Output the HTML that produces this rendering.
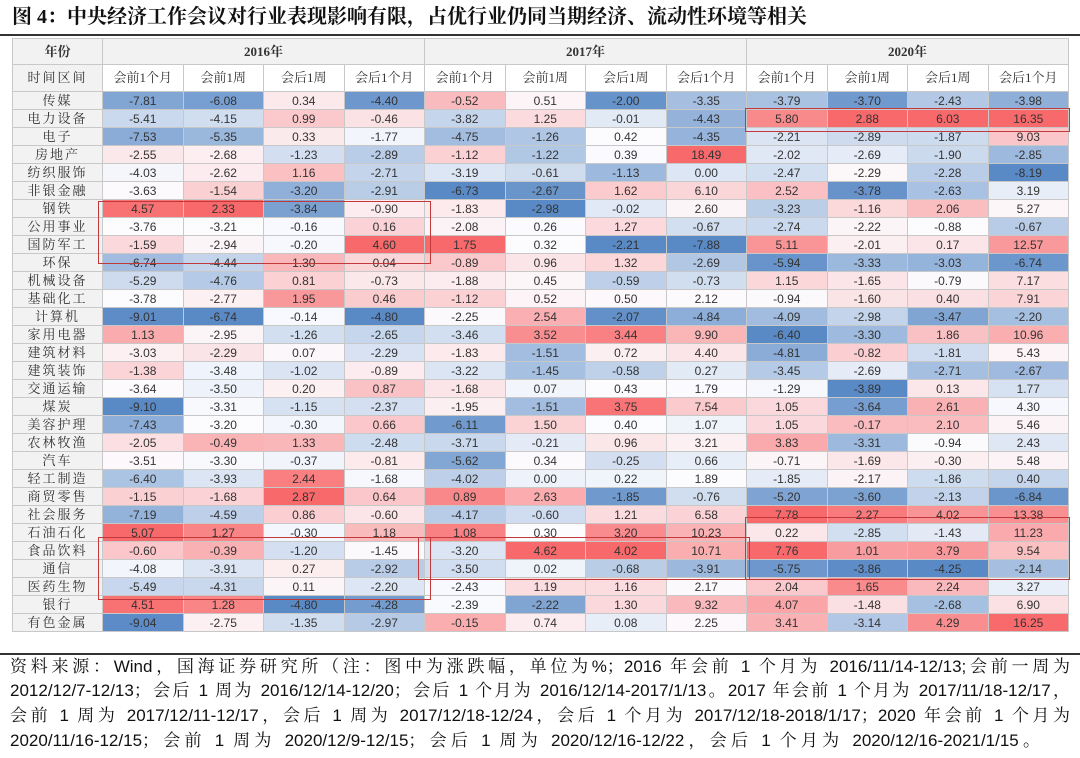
<!DOCTYPE html>
<html><head><meta charset="utf-8">
<style>
body{margin:0;width:1080px;height:758px;background:#fff;position:relative;overflow:hidden;font-family:"Liberation Sans","Noto Sans CJK SC",sans-serif}
#title{position:absolute;left:12px;top:4px;font:bold 20px "Liberation Serif","Noto Serif CJK SC",serif;color:#111;white-space:nowrap;line-height:26px}
.rule{position:absolute;left:0;width:1080px;height:2px;background:#333}
table{position:absolute;left:12px;top:38px;border-collapse:collapse;table-layout:fixed;width:1056px}
td{border:1px solid #c8c8c8;text-align:center;padding:0;font-size:12px;line-height:16px;color:#333;overflow:hidden;white-space:nowrap}
td.lab{background:#f2f2f2;font-family:"Liberation Serif","Noto Serif CJK SC",serif;font-size:13px;line-height:16px;letter-spacing:2px;color:#333}
tr.h1 td{height:25px;line-height:20px;background:#f2f2f2;font:bold 13px/20px "Liberation Serif","Noto Serif CJK SC",serif}
tr.h2 td{height:26px;line-height:20px;font:13px/20px "Liberation Serif","Noto Serif CJK SC",serif}
tr.d{height:18px}
tr.d td{height:17px;max-height:17px}
.gs{border-left:1.5px solid #777}
.box{position:absolute;border:1.5px solid #c0393b;pointer-events:none}
.fn{position:absolute;left:10px;width:1060px;font:17px/22px "Liberation Sans","Noto Serif CJK SC",sans-serif;color:#111;white-space:nowrap;text-align:justify;text-align-last:justify}
</style></head><body>
<div id="title">图 4：中央经济工作会议对行业表现影响有限，占优行业仍同当期经济、流动性环境等相关</div>
<div class="rule" style="top:34px"></div>
<table id="tbl"></table>
<div class="rule" style="top:653px;height:1.5px"></div>
<div class="fn" style="top:656px">资料来源：Wind，国海证券研究所（注：图中为涨跌幅，单位为%；2016 年会前 1 个月为 2016/11/14-12/13;会前一周为</div>
<div class="fn" style="top:680px">2012/12/7-12/13；会后 1 周为 2016/12/14-12/20；会后 1 个月为 2016/12/14-2017/1/13。2017 年会前 1 个月为 2017/11/18-12/17，</div>
<div class="fn" style="top:705px">会前 1 周为 2017/12/11-12/17，会后 1 周为 2017/12/18-12/24，会后 1 个月为 2017/12/18-2018/1/17；2020 年会前 1 个月为</div>
<div class="fn" style="top:730px;width:1030px">2020/11/16-12/15；会前 1 周为 2020/12/9-12/15；会后 1 周为 2020/12/16-12/22，会后 1 个月为 2020/12/16-2021/1/15。</div>
<div class="box" style="left:98px;top:201px;width:331px;height:61px"></div>
<div class="box" style="left:745px;top:108px;width:323px;height:22px"></div>
<div class="box" style="left:98px;top:537px;width:331px;height:61px"></div>
<div class="box" style="left:418px;top:537px;width:330px;height:41px"></div>
<div class="box" style="left:745px;top:517px;width:323px;height:61px"></div>
<script>
const years=["2016年","2017年","2020年"];
const periods=["会前1个月","会前1周","会后1周","会后1个月"];
const industries=["传媒","电力设备","电子","房地产","纺织服饰","非银金融","钢铁","公用事业","国防军工","环保","机械设备","基础化工","计算机","家用电器","建筑材料","建筑装饰","交通运输","煤炭","美容护理","农林牧渔","汽车","轻工制造","商贸零售","社会服务","石油石化","食品饮料","通信","医药生物","银行","有色金属"];
const values=[
[-7.81,-6.08,0.34,-4.40,-0.52,0.51,-2.00,-3.35,-3.79,-3.70,-2.43,-3.98],
[-5.41,-4.15,0.99,-0.46,-3.82,1.25,-0.01,-4.43,5.80,2.88,6.03,16.35],
[-7.53,-5.35,0.33,-1.77,-4.75,-1.26,0.42,-4.35,-2.21,-2.89,-1.87,9.03],
[-2.55,-2.68,-1.23,-2.89,-1.12,-1.22,0.39,18.49,-2.02,-2.69,-1.90,-2.85],
[-4.03,-2.62,1.16,-2.71,-3.19,-0.61,-1.13,0.00,-2.47,-2.29,-2.28,-8.19],
[-3.63,-1.54,-3.20,-2.91,-6.73,-2.67,1.62,6.10,2.52,-3.78,-2.63,3.19],
[4.57,2.33,-3.84,-0.90,-1.83,-2.98,-0.02,2.60,-3.23,-1.16,2.06,5.27],
[-3.76,-3.21,-0.16,0.16,-2.08,0.26,1.27,-0.67,-2.74,-2.22,-0.88,-0.67],
[-1.59,-2.94,-0.20,4.60,1.75,0.32,-2.21,-7.88,5.11,-2.01,0.17,12.57],
[-6.74,-4.44,1.30,0.04,-0.89,0.96,1.32,-2.69,-5.94,-3.33,-3.03,-6.74],
[-5.29,-4.76,0.81,-0.73,-1.88,0.45,-0.59,-0.73,1.15,-1.65,-0.79,7.17],
[-3.78,-2.77,1.95,0.46,-1.12,0.52,0.50,2.12,-0.94,-1.60,0.40,7.91],
[-9.01,-6.74,-0.14,-4.80,-2.25,2.54,-2.07,-4.84,-4.09,-2.98,-3.47,-2.20],
[1.13,-2.95,-1.26,-2.65,-3.46,3.52,3.44,9.90,-6.40,-3.30,1.86,10.96],
[-3.03,-2.29,0.07,-2.29,-1.83,-1.51,0.72,4.40,-4.81,-0.82,-1.81,5.43],
[-1.38,-3.48,-1.02,-0.89,-3.22,-1.45,-0.58,0.27,-3.45,-2.69,-2.71,-2.67],
[-3.64,-3.50,0.20,0.87,-1.68,0.07,0.43,1.79,-1.29,-3.89,0.13,1.77],
[-9.10,-3.31,-1.15,-2.37,-1.95,-1.51,3.75,7.54,1.05,-3.64,2.61,4.30],
[-7.43,-3.20,-0.30,0.66,-6.11,1.50,0.40,1.07,1.05,-0.17,2.10,5.46],
[-2.05,-0.49,1.33,-2.48,-3.71,-0.21,0.96,3.21,3.83,-3.31,-0.94,2.43],
[-3.51,-3.30,-0.37,-0.81,-5.62,0.34,-0.25,0.66,-0.71,-1.69,-0.30,5.48],
[-6.40,-3.93,2.44,-1.68,-4.02,0.00,0.22,1.89,-1.85,-2.17,-1.86,0.40],
[-1.15,-1.68,2.87,0.64,0.89,2.63,-1.85,-0.76,-5.20,-3.60,-2.13,-6.84],
[-7.19,-4.59,0.86,-0.60,-4.17,-0.60,1.21,6.58,7.78,2.27,4.02,13.38],
[5.07,1.27,-0.30,1.18,1.08,0.30,3.20,10.23,0.22,-2.85,-1.43,11.23],
[-0.60,-0.39,-1.20,-1.45,-3.20,4.62,4.02,10.71,7.76,1.01,3.79,9.54],
[-4.08,-3.91,0.27,-2.92,-3.50,0.02,-0.68,-3.91,-5.75,-3.86,-4.25,-2.14],
[-5.49,-4.31,0.11,-2.20,-2.43,1.19,1.16,2.17,2.04,1.65,2.24,3.27],
[4.51,1.28,-4.80,-4.28,-2.39,-2.22,1.30,9.32,4.07,-1.48,-2.68,6.90],
[-9.04,-2.75,-1.35,-2.97,-0.15,0.74,0.08,2.25,3.41,-3.14,4.29,16.25]
];
const tbl=document.getElementById('tbl');
const cg=document.createElement('colgroup');
for(let i=0;i<13;i++){const c=document.createElement('col');c.style.width=(i?80.5:90)+'px';cg.appendChild(c);}
tbl.appendChild(cg);
function lerp(a,b,t){return a.map((v,i)=>Math.round(v+(b[i]-v)*t));}
const LO=[90,138,198],MID=[252,252,255],HI=[248,105,107];
function colStats(j){const c=values.map(r=>r[j]).sort((a,b)=>a-b);const n=c.length;return {min:c[0],max:c[n-1],med:(c[(n-1)>>1]+c[n>>1])/2};}
const stats=[];for(let j=0;j<12;j++)stats.push(colStats(j));
function color(v,s){let rgb;if(v<=s.med){rgb=lerp(MID,LO,(s.med-v)/(s.med-s.min||1));}else{rgb=lerp(MID,HI,(v-s.med)/(s.max-s.med||1));}return 'rgb('+rgb.join(',')+')';}
let tr=document.createElement('tr');tr.className='h1';


let td=document.createElement('td');td.textContent='年份';


tr.appendChild(td);
years.forEach((y,i)=>{const t=document.createElement('td');t.colSpan=4;t.textContent=y;t.className='gs';


tr.appendChild(t);});
tbl.appendChild(tr);
tr=document.createElement('tr');tr.className='h2';


td=document.createElement('td');td.textContent='时间区间';td.className='lab';


tr.appendChild(td);
for(let y=0;y<3;y++)periods.forEach((p,i)=>{const t=document.createElement('td');t.textContent=p;if(i===0)t.className='gs';


tr.appendChild(t);});
tbl.appendChild(tr);
industries.forEach((ind,r)=>{
 const row=document.createElement('tr');row.className='d';
 
 
 const l=document.createElement('td');l.className='lab';l.textContent=ind;
 
 
 row.appendChild(l);
 values[r].forEach((v,j)=>{const c=document.createElement('td');c.textContent=v.toFixed(2);c.style.background=color(v,stats[j]);if(j%4===0)c.className='gs';
 
 
 row.appendChild(c);});
 tbl.appendChild(row);
});
</script>
</body></html>
